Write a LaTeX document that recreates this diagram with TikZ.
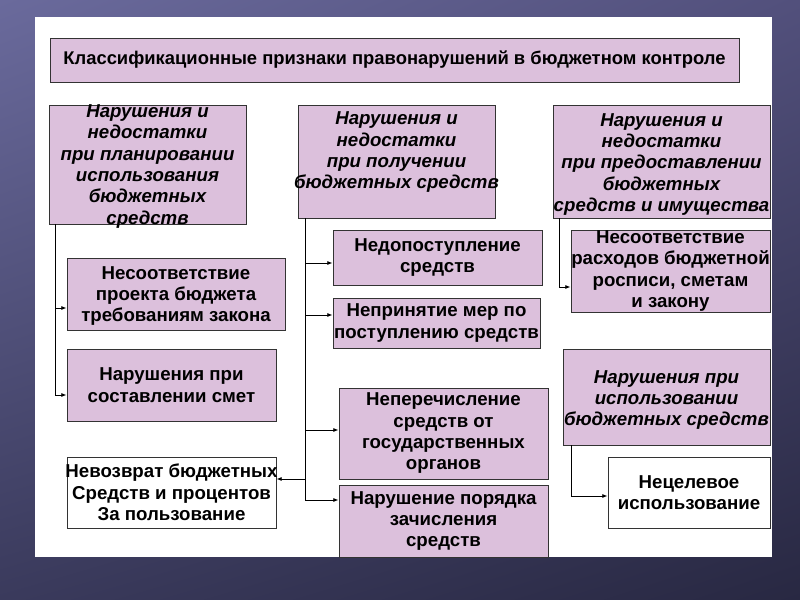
\documentclass[tikz,border=0pt]{standalone}
\usepackage{fontspec}
\setmainfont{Liberation Sans}
\usetikzlibrary{arrows.meta,calc,fit,shadings}
\definecolor{SoftLilac}{RGB}{220,192,220}
\definecolor{SlideUL}{RGB}{106,106,156}
\definecolor{SlideUR}{RGB}{82,80,124}
\definecolor{SlideLL}{RGB}{58,58,92}
\definecolor{SlideLR}{RGB}{40,40,66}

\begin{document}
\begin{tikzpicture}[x=0.75pt,y=-0.75pt,>=Latex,
  box/.style={draw=black!80,fill=SoftLilac,inner sep=0pt,line width=0.6pt},
  whitebox/.style={box,fill=white},
  txt/.style={align=center,font=\bfseries\fontsize{14}{16}\selectfont},
  head/.style={align=center,font=\bfseries\itshape\fontsize{14}{16}\selectfont},
  arr/.style={-{Latex[length=4pt,width=3pt]},line width=0.6pt}]
\useasboundingbox (0,0) rectangle (800,600);
\shade[upper left=SlideUL,upper right=SlideUR,lower left=SlideLL,lower right=SlideLR] (0,0) rectangle (800,600);
\fill[white] (35,17) rectangle (772,557);
% title
\node[box,fit={(50,38)(739,82)}] (title) {};
\node[txt,font=\bfseries\fontsize{13.8}{16}\selectfont] (title-t) at (title.center) {Классификационные признаки правонарушений в бюджетном контроле};
% group headers
\node[box,fit={(49,105)(246,224)}] (h1) {};
\node[head] (h1-t) at ($(h1.center)+(0,2)$) {Нарушения и\\недостатки\\при планировании\\использования\\бюджетных\\средств};
\node[box,fit={(298,105)(495,218)}] (h2) {};
\node[head] (h2-t) at ($(h2.center)+(0,-9)$) {Нарушения и\\недостатки\\при получении\\бюджетных средств};
\node[box,fit={(553,105)(770,218)}] (h3) {};
\node[head] (h3-t) at ($(h3.center)+(0,3)$) {Нарушения и\\недостатки\\при предоставлении\\бюджетных\\средств и имущества};
\node[box,fit={(563,349)(770,445)}] (h4) {};
\node[head] (h4-t) at ($(h4.center)+(0,3)$) {Нарушения при\\использовании\\бюджетных средств};
% first column
\node[box,fit={(67,258)(285,330)}] (c11) {};
\node[txt] (c11-t) at ($(c11.center)+(0,2)$) {Несоответствие\\проекта бюджета\\требованиям закона};
\node[box,fit={(67,349)(276,421)}] (c12) {};
\node[txt] (c12-t) at (c12.center) {Нарушения при\\составлении смет};
\node[whitebox,fit={(67,457)(276,528)}] (c13) {};
\node[txt] (c13-t) at (c13.center) {Невозврат бюджетных\\Средств и процентов\\За пользование};
% second column
\node[box,fit={(333,230)(542,285)}] (c21) {};
\node[txt] (c21-t) at (c21.center) {Недопоступление\\средств};
\node[box,fit={(333,298)(540,348)}] (c22) {};
\node[txt] (c22-t) at (c22.center) {Непринятие мер по\\поступлению средств};
\node[box,fit={(339,388)(548,479)}] (c23) {};
\node[txt] (c23-t) at (c23.center) {Неперечисление\\средств от\\государственных\\органов};
\node[box,fit={(339,485)(548,557)}] (c24) {};
\node[txt] (c24-t) at (c24.center) {Нарушение порядка\\зачисления\\средств};
% third column
\node[box,fit={(571,230)(770,312)}] (c31) {};
\node[txt] (c31-t) at (c31.center) {Несоответствие\\расходов бюджетной\\росписи, сметам\\и закону};
\node[whitebox,fit={(608,457)(770,528)}] (c41) {};
\node[txt] (c41-t) at (c41.center) {Нецелевое\\использование};
% connectors
\coordinate (tr1) at (h1.south -| 55,0);
\draw[arr] (tr1) |- (c11.west |- 0,308);
\draw[arr] (tr1) |- (c12.west |- 0,395);
\coordinate (tr2) at (h2.south -| 305,0);
\draw[arr] (tr2) |- (c21.west |- 0,263);
\draw[arr] (tr2) |- (c22.west |- 0,315);
\draw[arr] (tr2) |- (c23.west |- 0,430);
\draw[arr] (tr2) |- (c24.west |- 0,500);
\draw[arr] (tr2 |- 0,479) -- (c13.east |- 0,479);
\coordinate (tr3) at (h3.south -| 559,0);
\draw[arr] (tr3) |- (c31.west |- 0,287);
\coordinate (tr4) at (h4.south -| 571,0);
\draw[arr] (tr4) |- (c41.west |- 0,496);
\end{tikzpicture}
\end{document}
